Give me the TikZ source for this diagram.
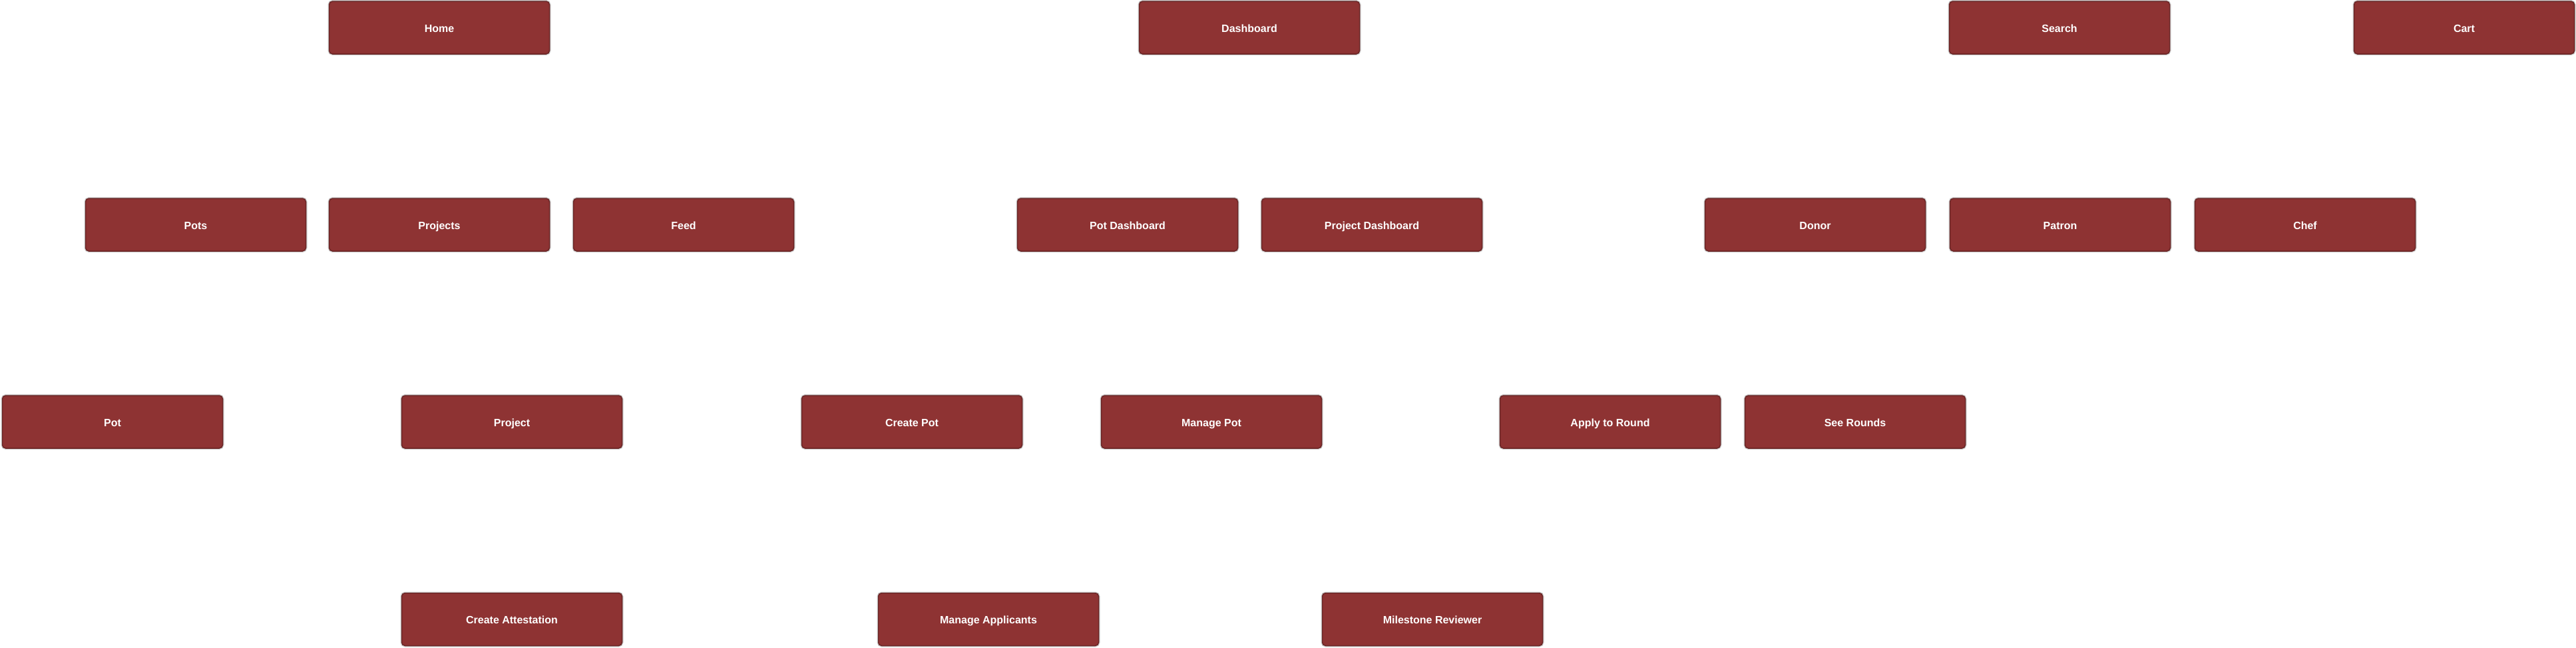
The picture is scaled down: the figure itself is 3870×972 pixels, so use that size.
\documentclass[tikz,border=0pt]{standalone}
\usepackage{fontspec}
\setmainfont{Liberation Sans}
\usepackage{tikz}
\usepackage{xcolor}
\usetikzlibrary{positioning}
\definecolor{boxred}{HTML}{8E3333}
\definecolor{boxedge}{HTML}{6A2525}
\definecolor{boxhalo}{HTML}{CCCCCC}

\begin{document}
\begin{tikzpicture}
  [x=1pt,y=-1pt,every node/.style={rectangle,rounded corners=5pt,fill=boxred,draw=boxedge,line width=1.5pt,
   preaction={draw=boxhalo,line width=4pt},text=white,font=\fontsize{16}{19}\selectfont\bfseries,
   minimum width=331pt,minimum height=79pt,inner sep=0pt,text height=13pt,text depth=0pt}]
  \useasboundingbox (0,0) rectangle (3870,972);
  % top row
  \node (home) at (660,41.5) {Home};
  \node (dash) at (1877,41.5) {Dashboard};
  \node (search) at (3094,41.5) {Search};
  \node (cart) at (3702,41.5) {Cart};
  % second row
  \node (pots) at (294,337.5) {Pots};
  \node (projects) at (660,337.5) {Projects};
  \node (feed) at (1027,337.5) {Feed};
  \node (potdash) at (1694,337.5) {Pot Dashboard};
  \node (projdash) at (2061,337.5) {Project Dashboard};
  \node (donor) at (2727,337.5) {Donor};
  \node (patron) at (3095,337.5) {Patron};
  \node (chef) at (3463,337.5) {Chef};
  % third row
  \node (pot) at (169,633.5) {Pot};
  \node (project) at (769,633.5) {Project};
  \node (createpot) at (1370,633.5) {Create Pot};
  \node (managepot) at (1820,633.5) {Manage Pot};
  \node (apply) at (2419,633.5) {Apply to Round};
  \node (rounds) at (2787,633.5) {See Rounds};
  % bottom row
  \node (attest) at (769,930) {Create Attestation};
  \node (applicants) at (1485,930) {Manage Applicants};
  \node (reviewer) at (2152,930) {Milestone Reviewer};
\end{tikzpicture}
\end{document}
